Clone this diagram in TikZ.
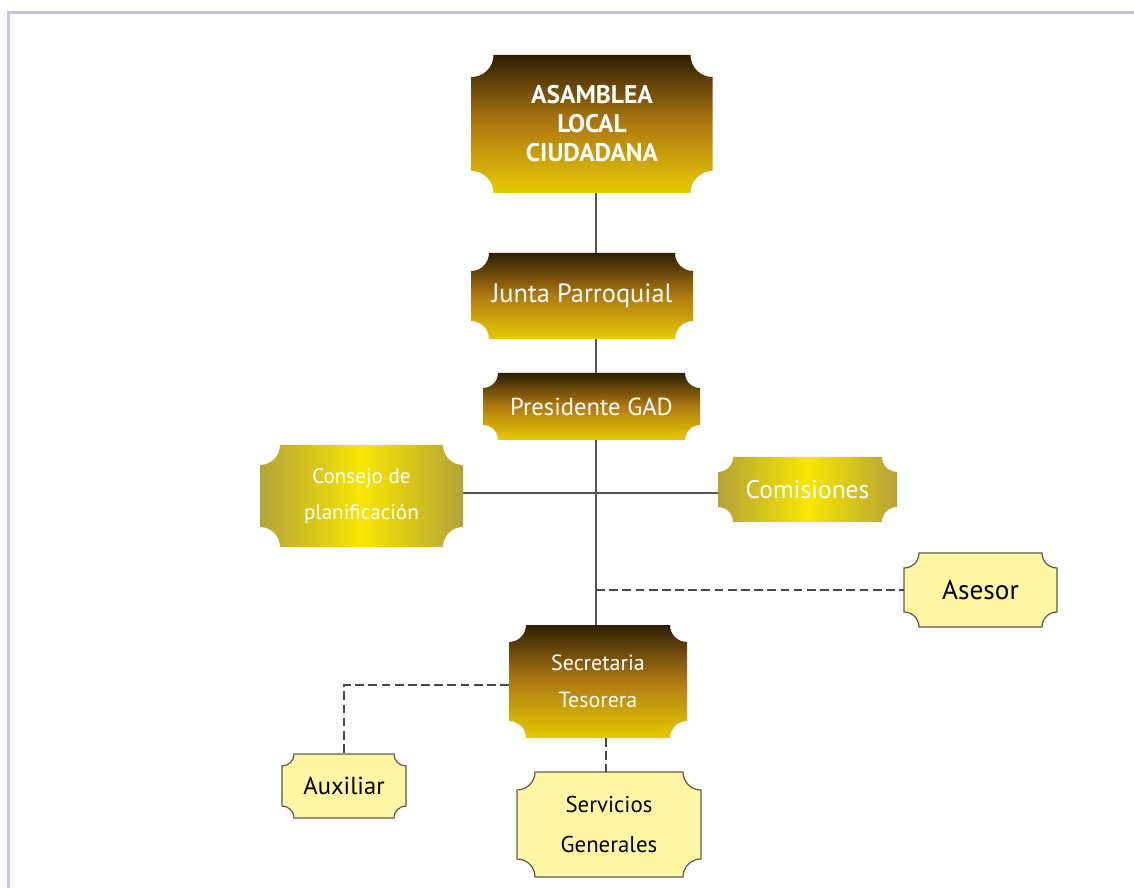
\documentclass[tikz,border=0pt]{standalone}
\usepackage{fontspec}
\setmainfont{PT Sans}
\usetikzlibrary{calc, backgrounds}

\definecolor{frameline}{HTML}{CCC0E0}
\definecolor{goldtop}{HTML}{140C00}
\definecolor{goldmid}{HTML}{B07A10}
\definecolor{goldlow}{HTML}{F2DA00}
\definecolor{oliveside}{HTML}{B4A338}
\definecolor{olivecore}{HTML}{F8E600}
\definecolor{paleyellow}{HTML}{FFF6A3}
\definecolor{edgegray}{HTML}{5C5C50}
\definecolor{linegray}{HTML}{555555}

% shadings for the two kinds of coloured boxes
\pgfdeclareverticalshading{goldbar}{100bp}{color(0bp)=(goldlow); color(20bp)=(goldlow);
  color(50bp)=(goldmid); color(80bp)=(goldtop); color(100bp)=(goldtop)}
\pgfdeclarehorizontalshading{olivebar}{100bp}{color(0bp)=(oliveside); color(25bp)=(oliveside);
  color(50bp)=(olivecore); color(75bp)=(oliveside); color(100bp)=(oliveside)}

% box with concave (cut-in) corners round a named node
\newcommand{\bevelbox}[3]{%
  \path[#3] ($(#1.north west)+(#2,0)$) -- ($(#1.north east)+(-#2,0)$)
    arc[start angle=180, end angle=270, radius=#2]
    -- ($(#1.south east)+(0,#2)$)
    arc[start angle=90, end angle=180, radius=#2]
    -- ($(#1.south west)+(#2,0)$)
    arc[start angle=0, end angle=90, radius=#2]
    -- ($(#1.north west)+(0,-#2)$)
    arc[start angle=270, end angle=360, radius=#2]
    -- cycle;
}

\begin{document}
\begin{tikzpicture}[
    cell/.style={align=center, inner sep=0pt, outer sep=0pt},
    dark/.style={shading=goldbar},
    glow/.style={shading=olivebar},
    pale/.style={fill=paleyellow, draw=edgegray, line width=0.7pt},
    link/.style={draw=linegray, line width=0.7pt},
    dashlink/.style={draw=linegray!85!black, line width=1.3pt, dash pattern=on 5pt off 2.5pt},
]
\useasboundingbox (0,0) rectangle (22.68,-17.76);

% ---- Frame ----
\draw[frameline, line width=1.7pt] (0.17,-17.76) -- (0.17,-0.25) -- (22.68,-0.25);

% ---- Top of the chart ----
\node[cell, minimum width=4.82cm, minimum height=2.76cm, text=white,
      font=\fontsize{14.5}{16.5}\selectfont\bfseries] (asamblea) at (11.84,-2.48)
    {ASAMBLEA\\LOCAL\\CIUDADANA};
\node[cell, minimum width=4.44cm, minimum height=1.72cm, text=white,
      font=\fontsize{15}{16}\selectfont] (junta) at (11.64,-5.92) {Junta Parroquial};
\node[cell, minimum width=4.34cm, minimum height=1.34cm, text=white,
      font=\fontsize{14}{16}\selectfont] (presidente) at (11.83,-8.13) {Presidente GAD};

% ---- Side bodies ----
\node[cell, minimum width=4.06cm, minimum height=2.04cm, text=white,
      font=\fontsize{12}{20.5}\selectfont] (consejo) at (7.23,-9.92) {Consejo de\\planificación};
\node[cell, minimum width=3.58cm, minimum height=1.30cm, text=white,
      font=\fontsize{14.5}{16}\selectfont] (comisiones) at (16.15,-9.79) {Comisiones};
\node[cell, minimum width=3.06cm, minimum height=1.48cm,
      font=\fontsize{15.5}{16}\selectfont] (asesor) at (19.61,-11.80) {Asesor};

% ---- Lower part ----
\node[cell, minimum width=3.56cm, minimum height=2.26cm, text=white,
      font=\fontsize{12.5}{21}\selectfont] (secretaria) at (11.96,-13.63) {Secretaria\\Tesorera};
\node[cell, minimum width=2.48cm, minimum height=1.28cm,
      font=\fontsize{14}{16}\selectfont] (auxiliar) at (6.88,-15.72) {Auxiliar};
\node[cell, minimum width=3.68cm, minimum height=2.10cm,
      font=\fontsize{13}{23}\selectfont] (servicios) at (12.18,-16.49) {Servicios\\Generales};

% ---- Box shapes behind the texts ----
\begin{scope}[on background layer]
\bevelbox{asamblea}{0.44}{dark}
\bevelbox{junta}{0.36}{dark}
\bevelbox{presidente}{0.30}{dark}
\bevelbox{secretaria}{0.34}{dark}
\bevelbox{consejo}{0.40}{glow}
\bevelbox{comisiones}{0.30}{glow}
\bevelbox{asesor}{0.30}{pale}
\bevelbox{auxiliar}{0.24}{pale}
\bevelbox{servicios}{0.36}{pale}
\end{scope}

% ---- Connectors ----
\coordinate (axis) at (11.92,0);
\coordinate (hub) at (11.92,-9.86);
\coordinate (tap) at (11.92,-11.80);
\coordinate (stub) at ([xshift=0.16cm]secretaria.south);

\draw[link] (asamblea.south -| axis) -- (junta.north -| axis);
\draw[link] (junta.south -| axis) -- (presidente.north -| axis);
\draw[link] (presidente.south -| axis) -- (secretaria.north -| axis);
\draw[link] (consejo.east |- hub) -- (comisiones.west |- hub);

\draw[dashlink] (tap) -- (asesor.west);
\draw[dashlink] ([yshift=-0.07cm]secretaria.west) -| (auxiliar.north);
\draw[dashlink] (stub) -- (stub |- servicios.north);

\end{tikzpicture}
\end{document}
